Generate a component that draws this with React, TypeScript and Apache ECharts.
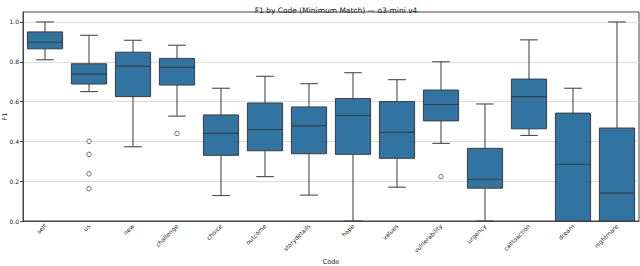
import React, { useEffect, useRef } from "react";
import * as echarts from "echarts";

const categories = ["self", "us", "new", "challenge", "choice", "outcome", "storydetails", "hope", "values", "vulnerability", "urgency", "calltoaction", "dream", "nightmare"];
const whiskerLow = [0.81, 0.65, 0.373, 0.527, 0.128, 0.223, 0.13, 0.0, 0.17, 0.39, 0.0, 0.43, 0.0, 0.0];
const q1 = [0.865, 0.688, 0.625, 0.683, 0.33, 0.353, 0.338, 0.335, 0.315, 0.503, 0.165, 0.463, 0.0, 0.0];
const median = [0.898, 0.738, 0.778, 0.772, 0.44, 0.46, 0.478, 0.53, 0.445, 0.585, 0.21, 0.625, 0.285, 0.14];
const q3 = [0.95, 0.79, 0.848, 0.817, 0.533, 0.593, 0.573, 0.615, 0.6, 0.658, 0.365, 0.713, 0.542, 0.467];
const whiskerHigh = [1.0, 0.933, 0.908, 0.883, 0.667, 0.727, 0.69, 0.745, 0.71, 0.8, 0.588, 0.91, 0.667, 1.0];
const outlierCodes = ["us", "us", "us", "us", "challenge", "vulnerability"];
const outlierValues = [0.4, 0.335, 0.237, 0.162, 0.44, 0.223];
const yTicks = [0, 0.2, 0.4, 0.6, 0.8, 1.0];

const BOX = "#3274a1";
const LINE = "#4a4a4a";

export default function App() {
  const ref = useRef<HTMLDivElement>(null);
  useEffect(() => {
    const chart = echarts.init(ref.current!, null, { renderer: "svg" });
    const boxData = categories.map((_, i) => [i, whiskerLow[i], q1[i], median[i], q3[i], whiskerHigh[i]]);
    const outData = outlierCodes.map((c, i) => [categories.indexOf(c), outlierValues[i]]);
    const font = "DejaVu Sans";
    chart.setOption({
      animation: false,
      textStyle: { fontFamily: font },
      title: {
        text: "F1 by Code (Minimum Match) — o3-mini v4",
        left: 331,
        textAlign: "center",
        top: 1,
        textStyle: { fontSize: 7.5, fontWeight: "normal", color: "#222", fontFamily: font },
      },
      grid: {
        left: 23, right: 1, top: 12, bottom: 45,
        outerBoundsMode: "none",
        containLabel: false,
        show: true, borderColor: "#444", borderWidth: 1, backgroundColor: "transparent",
      },
      xAxis: {
        type: "category",
        data: categories,
        boundaryGap: true,
        name: "Code",
        nameLocation: "middle",
        nameGap: 37,
        nameMoveOverlap: false,
        nameTextStyle: { fontSize: 6.5, color: "#222", fontFamily: font },
        axisLine: { lineStyle: { color: "#444" } },
        axisTick: { alignWithLabel: true, length: 3, lineStyle: { color: "#444" } },
        axisLabel: { rotate: 45, fontSize: 6, color: "#222", margin: 4, interval: 0, fontFamily: font },
        splitLine: { show: false },
      },
      yAxis: {
        type: "value",
        min: 0,
        max: 1.05,
        interval: 0.2,
        name: "F1",
        nameLocation: "middle",
        nameGap: 15,
        nameMoveOverlap: false,
        nameRotate: 90,
        nameTextStyle: { fontSize: 6.5, color: "#222", fontFamily: font },
        axisLine: { show: true, lineStyle: { color: "#444" } },
        axisTick: { show: true, length: 3, lineStyle: { color: "#444" }, customValues: yTicks },
        axisLabel: {
          fontSize: 6, color: "#222", margin: 4, fontFamily: font,
          customValues: yTicks,
          formatter: (v: number) => v.toFixed(1),
        },
        splitLine: { show: true, lineStyle: { color: "#dcdcdc", width: 1 } },
      },
      series: [
        {
          type: "custom",
          data: boxData,
          encode: { x: 0, y: [1, 2, 3, 4, 5] },
          z: 3,
          renderItem: (params: any, api: any) => {
            const idx = api.value(0);
            const pLo = api.coord([idx, api.value(1)]);
            const pQ1 = api.coord([idx, api.value(2)]);
            const pMed = api.coord([idx, api.value(3)]);
            const pQ3 = api.coord([idx, api.value(4)]);
            const pHi = api.coord([idx, api.value(5)]);
            const x = pMed[0];
            const bw = api.size([1, 0])[0] * 0.8;
            const half = bw / 2;
            const cap = bw / 4;
            const ls = { stroke: LINE, lineWidth: 1.1, fill: null };
            return {
              type: "group",
              children: [
                { type: "line", shape: { x1: x, y1: pLo[1], x2: x, y2: pQ1[1] }, style: ls },
                { type: "line", shape: { x1: x, y1: pQ3[1], x2: x, y2: pHi[1] }, style: ls },
                { type: "line", shape: { x1: x - cap, y1: pLo[1], x2: x + cap, y2: pLo[1] }, style: ls },
                { type: "line", shape: { x1: x - cap, y1: pHi[1], x2: x + cap, y2: pHi[1] }, style: ls },
                {
                  type: "rect",
                  shape: { x: x - half, y: pQ3[1], width: bw, height: pQ1[1] - pQ3[1] },
                  style: { fill: BOX, stroke: "#3c3c3c", lineWidth: 1 },
                },
                { type: "line", shape: { x1: x - half, y1: pMed[1], x2: x + half, y2: pMed[1] }, style: { stroke: "#3c3c3c", lineWidth: 1.1 } },
              ],
            };
          },
        },
        {
          type: "scatter",
          data: outData,
          symbol: "circle",
          symbolSize: 4.5,
          z: 4,
          itemStyle: { color: "#ffffff", borderColor: LINE, borderWidth: 1 },
        },
      ],
    });
    return () => chart.dispose();
  }, []);
  return <div ref={ref} style={{ width: 640, height: 266, position: "absolute", left: 0, top: 0 }} />;
}
